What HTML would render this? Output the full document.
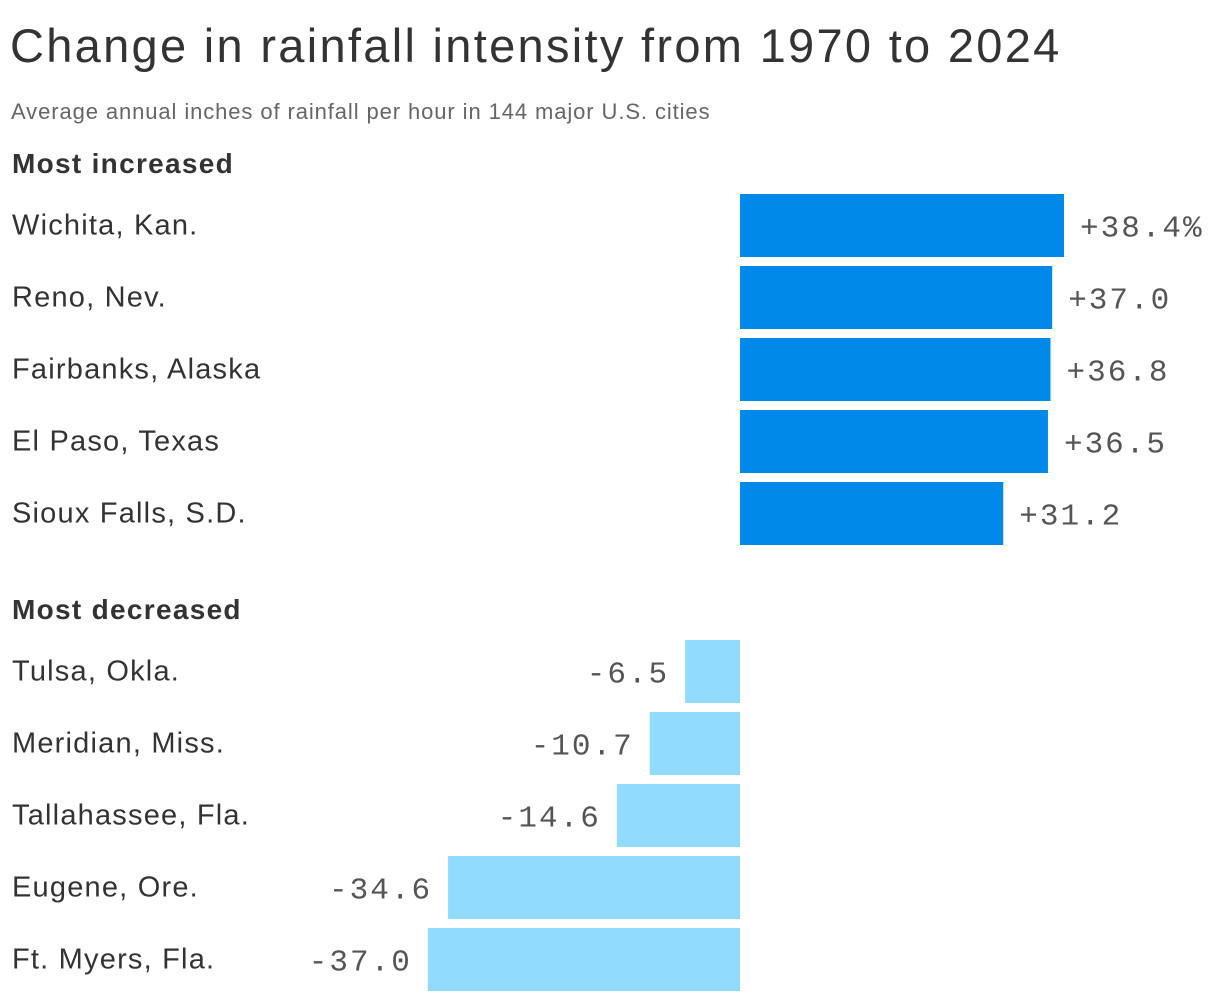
<!DOCTYPE html>
<html><head><meta charset="utf-8">
<style>
html,body{margin:0;padding:0;background:#fff;}
body{width:1220px;height:1002px;overflow:hidden;position:relative;font-family:"Liberation Sans",sans-serif;color:#333;}
#title{position:absolute;left:10px;top:18px;font-size:47px;color:#333;letter-spacing:2.3px;margin:0;font-weight:normal;white-space:nowrap;}
#subtitle{position:absolute;left:11px;top:99px;font-size:22px;color:#666;letter-spacing:0.9px;white-space:nowrap;}
.hdr{position:absolute;left:12px;font-size:28px;font-weight:bold;color:#333;letter-spacing:1.3px;}
svg{position:absolute;left:0;top:0;}
</style></head><body>
<h1 id="title">Change in rainfall intensity from 1970 to 2024</h1>
<div id="subtitle">Average annual inches of rainfall per hour in 144 major U.S. cities</div>
<div class="hdr" style="top:148px">Most increased</div>
<div class="hdr" style="top:594px">Most decreased</div>
<svg id="chart" width="1220" height="1002"></svg>
<script>
const incCities=["Wichita, Kan.","Reno, Nev.","Fairbanks, Alaska","El Paso, Texas","Sioux Falls, S.D."];
const incValues=[38.4,37.0,36.8,36.5,31.2];
const incLabels=["+38.4%","+37.0","+36.8","+36.5","+31.2"];
const decCities=["Tulsa, Okla.","Meridian, Miss.","Tallahassee, Fla.","Eugene, Ore.","Ft. Myers, Fla."];
const decValues=[-6.5,-10.7,-14.6,-34.6,-37.0];
const decLabels=["-6.5","-10.7","-14.6","-34.6","-37.0"];

const svg=document.getElementById('chart');
const NS='http://www.w3.org/2000/svg';
const x0=740, scale=8.4375;
function xs(v){return x0+v*scale;}
function drawGroup(cities,values,labels,top,color,prefix){
  for(let i=0;i<cities.length;i++){
    const y=top+i*72, h=63, v=values[i];
    const r=document.createElementNS(NS,'rect');
    const xa=Math.min(xs(0),xs(v)), w=Math.abs(xs(v)-xs(0));
    r.setAttribute('x',xa);r.setAttribute('y',y);r.setAttribute('width',w);r.setAttribute('height',h);
    r.setAttribute('fill',color);
    
    
    svg.appendChild(r);
    const c=document.createElementNS(NS,'text');
    c.setAttribute('x',12);c.setAttribute('y',y+h/2+9);
    c.setAttribute('font-size','29');c.setAttribute('fill','#333');
    c.setAttribute('letter-spacing','1.2');
    c.setAttribute('font-family','Liberation Sans, sans-serif');
    c.textContent=cities[i];
    
    
    svg.appendChild(c);
    const t=document.createElementNS(NS,'text');
    const pos=v>=0;
    t.setAttribute('x',pos?xs(v)+16:xs(v)-16);t.setAttribute('y',y+h/2+11);
    t.setAttribute('text-anchor',pos?'start':'end');
    t.setAttribute('font-size','31');t.setAttribute('fill','#555');
    t.setAttribute('font-family','Liberation Mono, monospace');
    t.setAttribute('letter-spacing','2');
    t.textContent=labels[i];
    
    
    svg.appendChild(t);
  }
}
drawGroup(incCities,incValues,incLabels,194,'#0089e8','increased');
drawGroup(decCities,decValues,decLabels,640,'#91dbff','decreased');
</script>
</body></html>
